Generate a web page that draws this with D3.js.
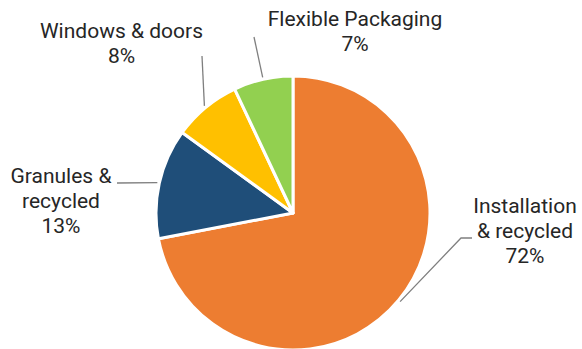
<!DOCTYPE html>
<html><head><meta charset="utf-8">
<script src="https://cdn.jsdelivr.net/npm/d3@7"></script>
<style>html,body{margin:0;padding:0;background:#fff;}svg{display:block;}</style>
</head><body>
<svg id="chart" width="582" height="349"></svg>
<script>
const categories = ["Installation & recycled", "Granules & recycled", "Windows & doors", "Flexible Packaging"];
const values = [72, 13, 8, 7];
const labelLines = [["Installation", "& recycled", "72%"], ["Granules &", "recycled", "13%"], ["Windows & doors", "8%"], ["Flexible Packaging", "7%"]];
const colors = ["#ED7D31", "#1F4E79", "#FFC000", "#92D050"];

const W = 582, H = 349, cx = 293, cy = 213, R = 137;
const fontSize = 21, lineH = 25;
// label layout: center x, first baseline y; leader start point (and optional elbow)
const labelPos = [
  {x: 525, y: 213, lead: [[472, 238], [461, 238]]},
  {x: 61, y: 183, lead: [[117, 183]]},
  {x: 121.5, y: 38, lead: [[202, 56]]},
  {x: 355, y: 26, lead: [[254, 37]]}
];

const svg = d3.select("#chart");
const data = categories.map((c, i) => ({name: c, value: values[i], lines: labelLines[i], color: colors[i], pos: labelPos[i]}));
const pie = d3.pie().sort(null).value(d => d.value).startAngle(0).endAngle(2 * Math.PI);
const arc = d3.arc().innerRadius(0).outerRadius(R);
const arcs = pie(data);
const g = svg.append("g").attr("transform", `translate(${cx},${cy})`);

g.selectAll("path.slice").data(arcs).join("path")
  .attr("class", "slice")
  .attr("d", arc)
  .attr("fill", d => d.data.color)
  .attr("stroke", "#fff")
  .attr("stroke-width", 3)
  .attr("stroke-linejoin", "round");

// leader lines
arcs.forEach(a => {
  const mid = (a.startAngle + a.endAngle) / 2;
  const rr = R + 2;
  const end = [cx + rr * Math.sin(mid), cy - rr * Math.cos(mid)];
  const pts = a.data.pos.lead.concat([end]);
  svg.append("path")
    .attr("d", d3.line()(pts))
    .attr("fill", "none")
    .attr("stroke", "#7F7F7F")
    .attr("stroke-width", 1.3);
});

// labels
arcs.forEach(a => {
  const t = svg.append("text")
    .attr("x", a.data.pos.x)
    .attr("y", a.data.pos.y)
    .attr("text-anchor", "middle")
    .attr("font-family", "Roboto, sans-serif")
    .attr("font-size", fontSize)
    .attr("fill", "#262626");
  a.data.lines.forEach((ln, i) => {
    t.append("tspan").attr("x", a.data.pos.x).attr("y", a.data.pos.y + i * lineH).text(ln);
  });
});
</script>
</body></html>
